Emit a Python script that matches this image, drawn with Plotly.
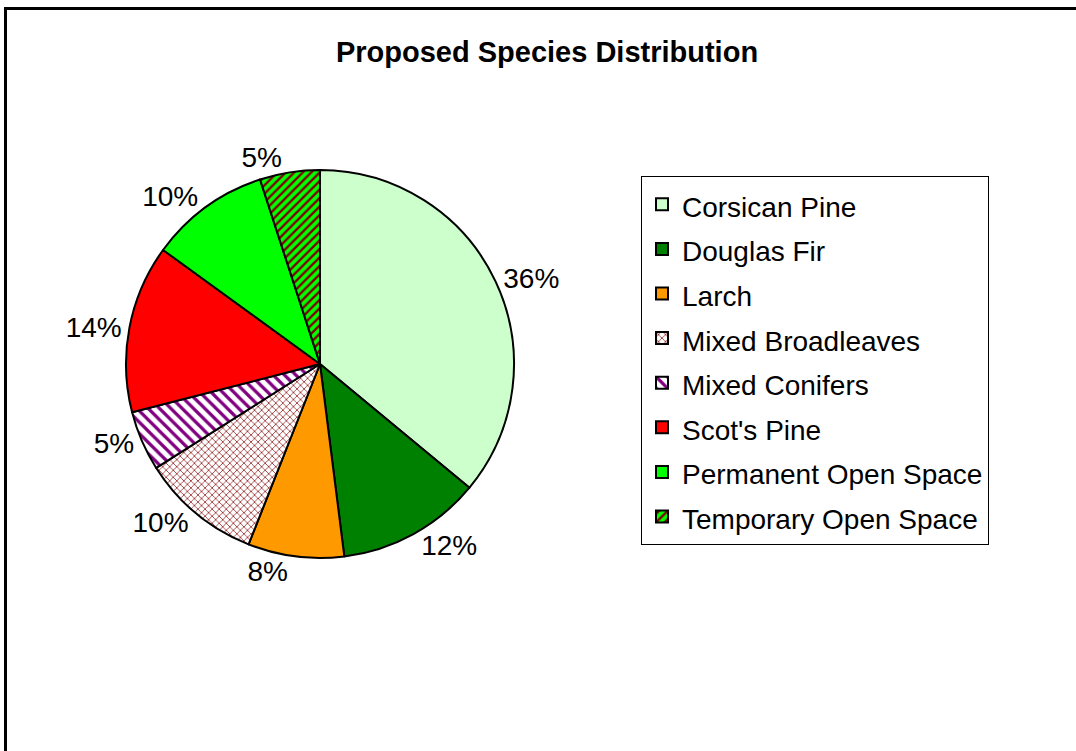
import plotly.graph_objects as go

species = ["Corsican Pine", "Douglas Fir", "Larch", "Mixed Broadleaves",
           "Mixed Conifers", "Scot's Pine", "Permanent Open Space", "Temporary Open Space"]
shares = [36, 12, 8, 10, 5, 14, 10, 5]
fill_colors = ["#CCFFCC", "#008000", "#FF9900", "#FFFFFF",
               "#FFFFFF", "#FF0000", "#00FF00", "#00FF00"]
pattern_shapes = ["", "", "", "x", "\\", "", "", "/"]
pattern_fg = ["#000000", "#000000", "#000000", "#800000",
              "#800080", "#000000", "#000000", "#800000"]
pattern_sizes = [8, 8, 8, 5, 8, 8, 8, 6]
pattern_solid = [0.3, 0.3, 0.3, 0.25, 0.4, 0.3, 0.3, 0.4]

W, H = 1076, 751
cx, cy, r = 320, 364, 194

legend_labels = [f"<span style='font-size:28px'>{s}</span>" for s in species]

fig = go.Figure(go.Pie(
    labels=legend_labels,
    values=shares,
    sort=False,
    direction="clockwise",
    rotation=0,
    texttemplate="%{value}%",
    textposition="outside",
    outsidetextfont=dict(family="Liberation Sans, Arial, sans-serif", size=28, color="black"),
    marker=dict(
        colors=fill_colors,
        line=dict(color="black", width=2),
        pattern=dict(shape=pattern_shapes, fgcolor=pattern_fg, bgcolor=fill_colors,
                     size=pattern_sizes, solidity=pattern_solid, fillmode="overlay",
                     fgopacity=1),
    ),
    domain=dict(x=[(cx - r) / W, (cx + r) / W], y=[(H - cy - r) / H, (H - cy + r) / H]),
    hoverinfo="label+percent",
))

fig.update_layout(
    width=W, height=H,
    margin=dict(l=0, r=0, t=0, b=0),
    paper_bgcolor="white",
    font=dict(family="Liberation Sans, Arial, sans-serif", color="black"),
    title=dict(text="<b>Proposed Species Distribution</b>", x=547 / W, xanchor="center",
               y=1 - 52 / H, yanchor="middle", font=dict(size=29, color="black")),
    legend=dict(x=641 / W, y=1 - 176 / H, xanchor="left", yanchor="top",
                bordercolor="black", borderwidth=1, bgcolor="white",
                font=dict(size=32, color="black"), traceorder="normal"),
    shapes=[dict(type="rect", xref="paper", yref="paper",
                 x0=5.5 / W, x1=1.02, y0=-0.02, y1=1 - 8.5 / H,
                 line=dict(color="black", width=3))],
)

fig.write_html("out.html")
